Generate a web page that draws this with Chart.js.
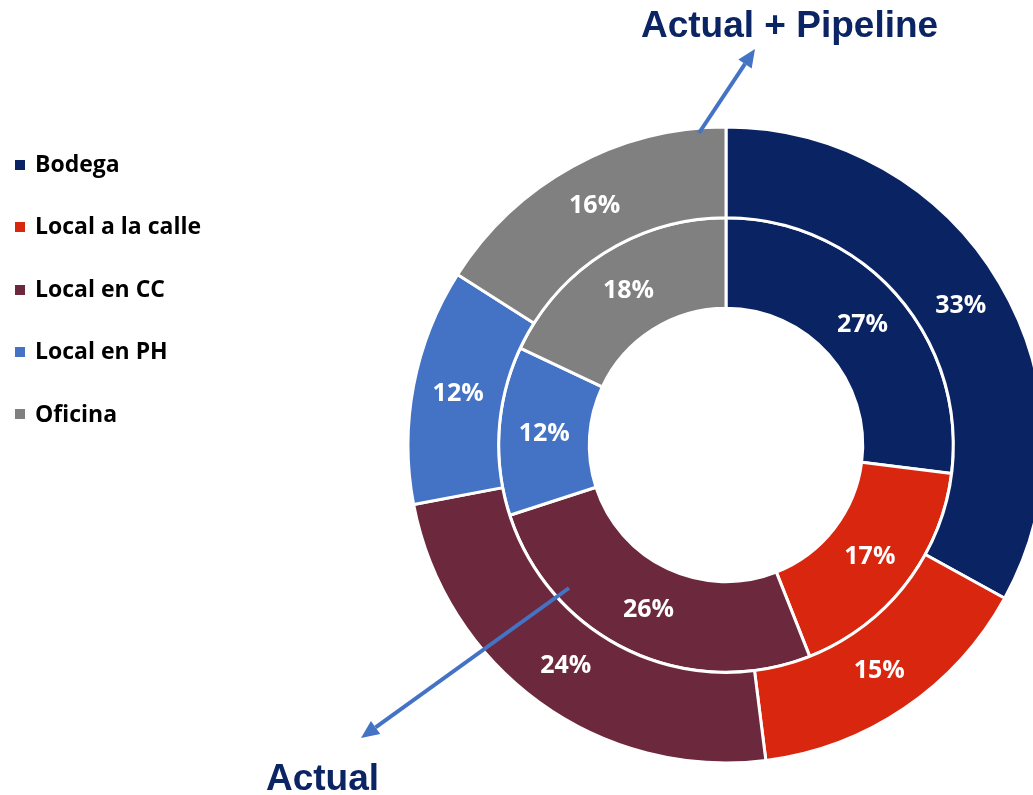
<!DOCTYPE html>
<html>
<head>
<meta charset="utf-8">
<script src="https://cdn.jsdelivr.net/npm/chart.js@4.4.0/dist/chart.umd.min.js"></script>
<style>
  body { margin: 0; overflow: hidden; background: #fff; width: 1033px; height: 795px; }
  #wrap { position: absolute; left: 0; top: 0; width: 1100px; height: 795px; }
  #legend { position: absolute; left: 15px; top: 132px; font-family: "Open Sans", sans-serif; font-weight: bold; font-size: 23px; color: #000; }
  .row { height: 62.4px; line-height: 62.4px; white-space: nowrap; }
  .box { display: inline-block; width: 10px; height: 10px; margin-right: 10px; vertical-align: middle; position: relative; top: -1px; }
  .title { position: absolute; font-family: "Liberation Sans", Arial, sans-serif; font-weight: bold; font-size: 37px; line-height: 37px; color: #0B2463; white-space: nowrap; }
</style>
</head>
<body>
<div id="wrap"><canvas id="chart"></canvas></div>
<div id="legend"></div>
<div class="title" id="t1" style="left:641px; top:6px;"></div>
<div class="title" id="t2" style="left:266px; top:759px;"></div>
<script>
const categories = ["Bodega", "Local a la calle", "Local en CC", "Local en PH", "Oficina"]
const colors = ["#0A2463", "#D9260F", "#6C293D", "#4472C4", "#808080"]
// outer ring
const pipelineLabel = "Actual + Pipeline"
const pipelineValues = [33, 15, 24, 12, 16]
// inner ring
const actualLabel = "Actual"
const actualValues = [27, 17, 26, 12, 18]

document.getElementById('t1').textContent = pipelineLabel
document.getElementById('t2').textContent = actualLabel

let legend = document.getElementById('legend')
categories.forEach((name, i) => {
    let row = document.createElement('div')
    row.className = 'row'
    row.innerHTML = '<span class="box" style="background:' + colors[i] + '"></span>' + name
    legend.appendChild(row)
})

const percentLabels = {
    id: 'percentLabels',
    afterDatasetsDraw(chart) {
        const ctx = chart.ctx
        ctx.save()
        ctx.fillStyle = '#fff'
        ctx.font = 'bold 25px "Open Sans", sans-serif'
        ctx.textAlign = 'center'
        ctx.textBaseline = 'middle'
        chart.data.datasets.forEach((ds, di) => {
            chart.getDatasetMeta(di).data.forEach((arc, i) => {
                const p = arc.tooltipPosition()
                ctx.fillText(ds.data[i] + '%', p.x, p.y)
            })
        })
        ctx.restore()
    }
}

function arrow(ctx, x1, y1, x2, y2) {
    const a = Math.atan2(y2 - y1, x2 - x1)
    const head = 18
    const bx = x2 - head * Math.cos(a), by = y2 - head * Math.sin(a)
    ctx.beginPath()
    ctx.moveTo(x1, y1)
    ctx.lineTo(bx, by)
    ctx.stroke()
    ctx.beginPath()
    ctx.moveTo(x2, y2)
    ctx.lineTo(bx + 8 * Math.sin(a), by - 8 * Math.cos(a))
    ctx.lineTo(bx - 8 * Math.sin(a), by + 8 * Math.cos(a))
    ctx.closePath()
    ctx.fill()
}

const arrows = {
    id: 'arrows',
    afterDraw(chart) {
        const ctx = chart.ctx
        ctx.save()
        ctx.strokeStyle = '#4472C4'
        ctx.fillStyle = '#4472C4'
        ctx.lineWidth = 4
        arrow(ctx, 699, 133, 755, 49)
        arrow(ctx, 569, 588, 361, 738)
        ctx.restore()
    }
}

new Chart(document.getElementById('chart'), {
    type: 'doughnut',
    data: {
        labels: categories,
        datasets: [
            {
                label: pipelineLabel,
                data: pipelineValues,
                backgroundColor: colors,
                borderColor: '#fff',
                borderWidth: 3
            },
            {
                label: actualLabel,
                data: actualValues,
                backgroundColor: colors,
                borderColor: '#fff',
                borderWidth: 3
            }
        ]
    },
    options: {
        responsive: true,
        maintainAspectRatio: false,
        animation: false,
        radius: 318,
        cutout: '43%',
        layout: { padding: { left: 408, right: 56, top: 127, bottom: 32 } },
        plugins: {
            legend: { display: false },
            tooltip: { enabled: false }
        }
    },
    plugins: [percentLabels, arrows]
})
</script>
</body>
</html>
